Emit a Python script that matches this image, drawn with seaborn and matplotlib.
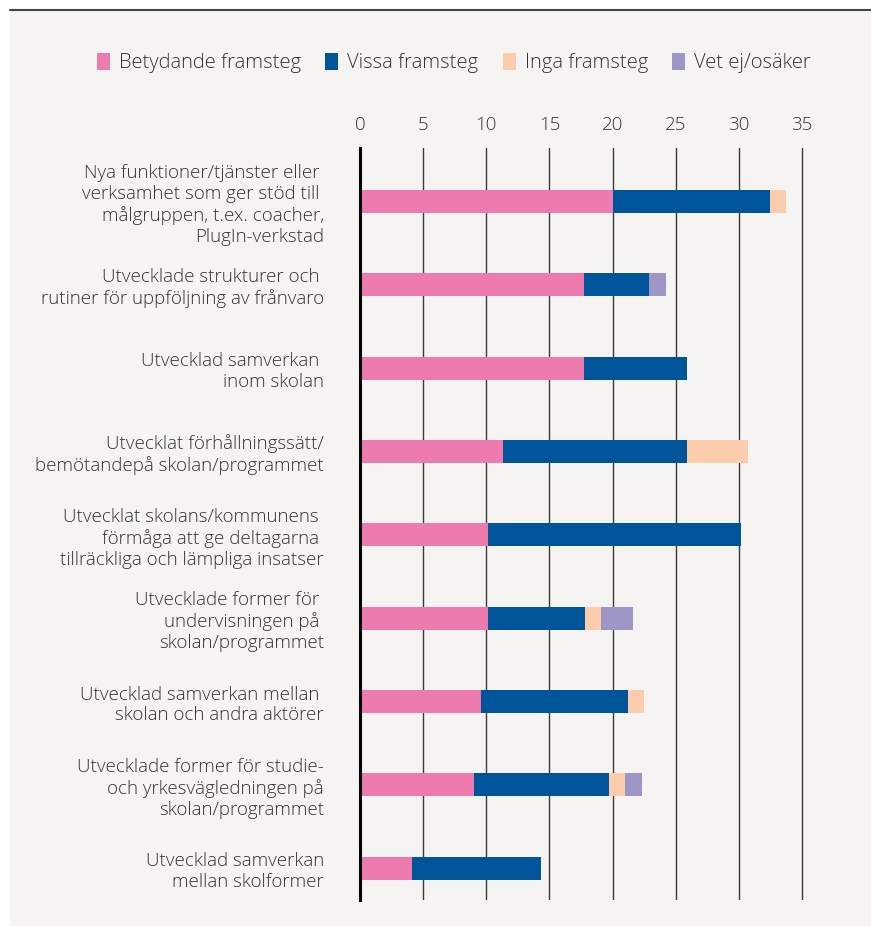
import matplotlib
matplotlib.use("Agg")
import matplotlib.pyplot as plt
import seaborn as sns
import pandas as pd
import numpy as np
from matplotlib.patches import Patch, Rectangle
from matplotlib.lines import Line2D

# Data
categories = [
    "Nya funktioner/tjänster eller \nverksamhet som ger stöd till \nmålgruppen, t.ex. coacher,\nPlugIn-verkstad",
    "Utvecklade strukturer och \nrutiner för uppföljning av frånvaro",
    "Utvecklad samverkan \ninom skolan",
    "Utvecklat förhållningssätt/\nbemötandepå skolan/programmet",
    "Utvecklat skolans/kommunens \nförmåga att ge deltagarna \ntillräckliga och lämpliga insatser",
    "Utvecklade former för \nundervisningen på \nskolan/programmet",
    "Utvecklad samverkan mellan \nskolan och andra aktörer",
    "Utvecklade former för studie-\noch yrkesvägledningen på\nskolan/programmet",
    "Utvecklad samverkan\nmellan skolformer",
]
betydande = [20.0, 17.7, 17.7, 11.3, 10.1, 10.1, 9.6, 9.0, 4.1]
vissa = [12.5, 5.2, 8.2, 14.6, 20.1, 7.7, 11.6, 10.7, 10.2]
inga = [1.25, 0.0, 0.0, 4.8, 0.0, 1.3, 1.3, 1.3, 0.0]
vet_ej = [0.0, 1.3, 0.0, 0.0, 0.0, 2.5, 0.0, 1.3, 0.0]

series_names = ["Betydande framsteg", "Vissa framsteg", "Inga framsteg", "Vet ej/osäker"]
colors = ["#ED7BAD", "#00549A", "#FBCDAC", "#9E96C6"]
xticks = [0, 5, 10, 15, 20, 25, 30, 35]

df = pd.DataFrame({
    "kategori": categories,
    "Betydande framsteg": betydande,
    "Vissa framsteg": vissa,
    "Inga framsteg": inga,
    "Vet ej/osäker": vet_ej,
})
cum = df[series_names].cumsum(axis=1)

sns.set_style("white")
plt.rcParams["font.family"] = ["Open Sans", "DejaVu Sans"]
plt.rcParams["font.weight"] = "light"
txt_color = "#333333"
bg = "#F5F4F2"
fs = 13.5

fig = plt.figure(figsize=(8.71, 9.26), dpi=100, facecolor="white")
fig.patches.append(Rectangle((10 / 871, 0), 1, 1 - 10 / 926, transform=fig.transFigure,
                             facecolor=bg, edgecolor="none", zorder=-10))
fig.lines.append(Line2D([10 / 871, 1], [1 - 10 / 926, 1 - 10 / 926], transform=fig.transFigure,
                        color="#444444", lw=1.5))

xmax = 35.3
ax = fig.add_axes([360 / 871, 1 - 900 / 926, 442 * xmax / 35 / 871, 752 / 926])
ax.set_facecolor(bg)

# stacked bars: draw cumulative totals from the largest down
for name, col in reversed(list(zip(series_names, colors))):
    sns.barplot(x=cum[name], y=df["kategori"], color=col, orient="h",
                width=0.275, ax=ax, zorder=3, saturation=1, linewidth=0)

ax.set_xlim(0, xmax)
ax.set_ylim(8.38, -0.64)
ax.set_xticks(xticks)
ax.xaxis.tick_top()
ax.tick_params(axis="x", length=0, pad=10, labelsize=fs, labelcolor=txt_color)
ax.tick_params(axis="y", length=0, pad=26, labelsize=fs, labelcolor=txt_color)
for lab in ax.get_yticklabels():
    lab.set_ha("right")
    lab.set_multialignment("right")
    lab.set_linespacing(1.2)
ax.set_xlabel("")
ax.set_ylabel("")
ax.grid(axis="x", color="#3a3a3a", lw=1, zorder=1)
ax.grid(axis="y", visible=False)
for s in ["top", "right", "bottom"]:
    ax.spines[s].set_visible(False)
ax.spines["left"].set_color("black")
ax.spines["left"].set_linewidth(2.2)
ax.spines["left"].set_zorder(5)

handles = [Patch(facecolor=c, edgecolor="none", label=n) for n, c in zip(series_names, colors)]
fig.legend(handles=handles, loc="center", bbox_to_anchor=(454 / 871, 1 - 63 / 926), ncol=4,
           frameon=False, fontsize=14.5, handlelength=0.65, handleheight=0.9,
           handletextpad=0.45, columnspacing=1.2, labelcolor=txt_color)

fig.savefig("out.png", dpi=100, facecolor="white")
